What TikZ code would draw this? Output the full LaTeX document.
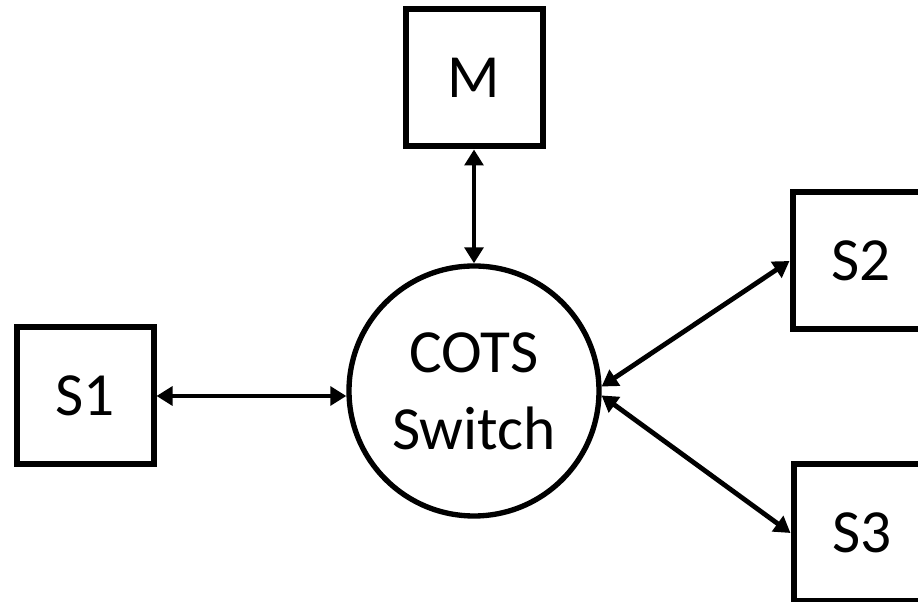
\documentclass[tikz,border=0pt]{standalone}
\usepackage{fontspec}
\setmainfont{Carlito}
\usetikzlibrary{arrows.meta}

\begin{document}
\begin{tikzpicture}[
    x=0.75pt, y=0.75pt,
    nodebox/.style={
      rectangle, draw=black, line width=4.5pt, fill=white,
      minimum size=102.75pt, inner sep=0pt,
      font=\fontsize{46}{58}\selectfont
    },
    switchnode/.style={
      circle, draw=black, line width=4pt, fill=white,
      minimum size=187.5pt, inner sep=0pt, align=center,
      font=\fontsize{46}{58}\selectfont
    },
    link/.style={
      {Triangle[length=12pt,width=14pt]}-{Triangle[length=12pt,width=14pt]},
      line width=3.6pt, black
    },
]

% ===== FRAME (918 x 602) =====
\clip (0, 0) rectangle (918, 602);

% ===== SWITCH =====
\node[switchnode] (sw) at (474, 211) {COTS\\Switch};

% ===== END NODES =====
\node[nodebox] (m)  at (474, 524) {M};
\node[nodebox] (s1) at (85, 206)  {S1};
\node[nodebox] (s2) at (861, 341) {S2};
\node[nodebox] (s3) at (862, 69)  {S3};

% ===== LINKS =====
\draw[link] (m.south) -- (sw.north);
\draw[link] (s1.east) -- (s1.east -| sw.west);
\draw[link] (sw.2) -- (s2.west);
\draw[link] (sw.-2) -- (s3.west);

\end{tikzpicture}
\end{document}
